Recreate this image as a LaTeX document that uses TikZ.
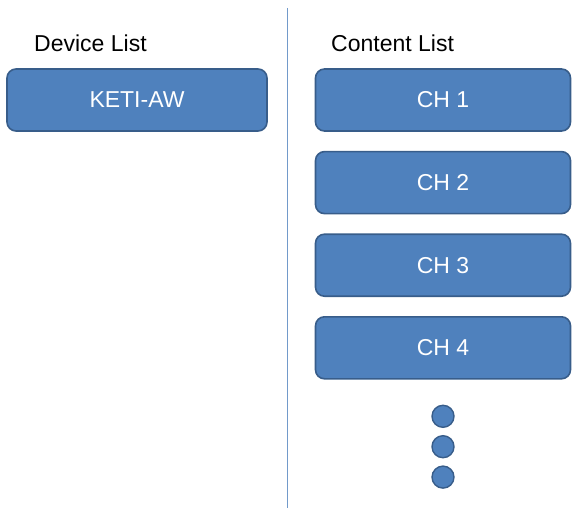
\documentclass[tikz,border=0pt]{standalone}
\usepackage{fontspec}
\setmainfont{Liberation Sans}
\usetikzlibrary{positioning}

\definecolor{boxblue}{HTML}{4F81BD}
\definecolor{boxedge}{HTML}{385D8A}

\begin{document}
\begin{tikzpicture}[
x=1pt, y=-1pt,
node distance = 19pt,
item/.style={rectangle, rounded corners=9pt, draw=boxedge, line width=1.6pt, fill=boxblue,
  text=white, font=\fontsize{23}{26}\selectfont, minimum height=62pt, inner sep=0pt},
title/.style={anchor=base west, font=\fontsize{23}{26}\selectfont, inner sep=0pt},
dot/.style={circle, draw=boxedge, line width=1.4pt, fill=boxblue, minimum size=22pt, inner sep=0pt}]

\useasboundingbox (0,0) rectangle (572,508);

% divider
\coordinate (top) at (287,8);
\coordinate (bot) at (287,508);
\draw[boxblue!80, line width=0.9pt] (top) -- (bot);

\node[title] (devtitle) at (34,52) {Device List};
\node[title] (contitle) at (331,52) {Content List};

\node[item, minimum width=260pt] (dev) at (137,100) {KETI-AW};

\node[item, minimum width=255pt] (ch1) at (443,100) {CH 1};
\node[item, minimum width=255pt] (ch2) [below = of ch1] {CH 2};
\node[item, minimum width=255pt] (ch3) [below = of ch2] {CH 3};
\node[item, minimum width=255pt] (ch4) [below = of ch3] {CH 4};

\node[dot] (d1) [below = 25pt of ch4] {};
\node[dot] (d2) [below = 7pt of d1] {};
\node[dot] (d3) [below = 7pt of d2] {};
\end{tikzpicture}
\end{document}
